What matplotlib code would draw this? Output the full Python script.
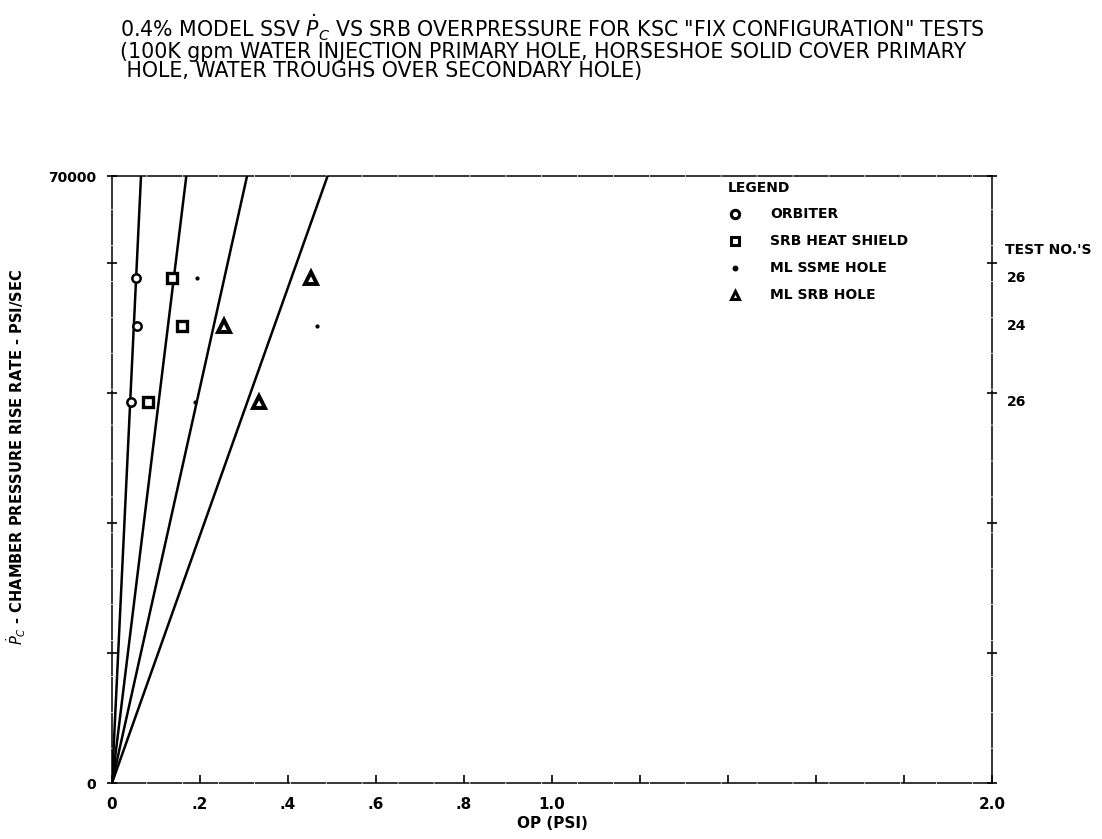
import numpy as np
import matplotlib
matplotlib.use('Agg')
import matplotlib.pyplot as plt
from matplotlib.lines import Line2D

plt.rcParams['font.family'] = ['DejaVu Sans']
plt.rcParams['mathtext.fontset'] = 'dejavusans'

# values
test_nos = ['26', '24', '26']
rate = [58200, 52700, 43900]          # Pc-dot, psi/sec, one row per test
orbiter = [0.055, 0.057, 0.043]
heat_shield = [0.136, 0.159, 0.082]
ssme_hole = [0.193, 0.466, 0.189]
srb_hole = [0.452, 0.255, 0.334]
# faired lines through origin: OP reached at top of plot (70000 psi/sec)
fair_end = [0.066, 0.169, 0.307, 0.490]
y_top = 70000

fig = plt.figure(figsize=(11.02, 8.39), dpi=100)
ax = fig.add_axes([0.1016, 0.0667, 0.7986, 0.7235])

for xe in fair_end:
    ax.plot([0, xe], [0, y_top], color='black', lw=1.8, zorder=2)

ax.plot(orbiter, rate, 'o', ms=6, mfc='white', mec='black', mew=1.8, zorder=3)
ax.plot(heat_shield, rate, 's', ms=7, mfc='white', mec='black', mew=2.4, zorder=3)
ax.plot(ssme_hole, rate, '.', ms=4, color='black', zorder=3)
ax.plot(srb_hole, rate, '^', ms=9, mfc='white', mec='black', mew=2.8, zorder=3)

ax.set_xlim(0, 2.0)
ax.set_ylim(0, y_top)
ax.set_xticks(np.arange(0, 2.01, 0.2))
ax.set_xticklabels(['0', '.2', '.4', '.6', '.8', '1.0', '', '', '', '', '2.0'],
                   fontsize=11, fontweight='bold')
ax.set_yticks([0, 15000, 30000, 45000, 60000, 70000])
ax.set_yticklabels(['0', '', '', '', '', '70000'], fontsize=10, fontweight='bold')
ax.tick_params(axis='x', direction='in', length=6, width=1.2, pad=10)
ax.tick_params(axis='y', direction='inout', length=7, width=1.2, pad=8,
               right=True)
for s in ax.spines.values():
    s.set_linewidth(1.1)
    s.set_linestyle((0, (22, 1.5)))

ax.set_xlabel('OP (PSI)', fontsize=11, fontweight='bold', labelpad=3)
ax.set_ylabel(r'$\dot{P}_C$ - CHAMBER PRESSURE RISE RATE - PSI/SEC',
              fontsize=10.5, fontweight='bold')
ax.yaxis.set_label_coords(-0.0955, 0.537)

# legend block
fig.text(728/1102, 1 - 188/839, 'LEGEND', fontsize=10, fontweight='bold',
         va='center')
leg_rows = [('o', 'ORBITER'), ('s', 'SRB HEAT SHIELD'),
            ('.', 'ML SSME HOLE'), ('^', 'ML SRB HOLE')]
for i, (m, lab) in enumerate(leg_rows):
    yy = 1 - (214 + 27 * i) / 839
    fig.lines.append(Line2D(
        [735/1102], [yy], marker=m, ms=6 if m != '.' else 4,
        mfc='white' if m != '.' else 'black', mec='black', mew=2.2,
        transform=fig.transFigure))
    fig.text(770/1102, yy, lab, fontsize=10, fontweight='bold', va='center')

# test numbers on right side
fig.text(1005/1102, 1 - 250/839, "TEST NO.'S", fontsize=10, fontweight='bold',
         va='center')
for t, r in zip(test_nos, rate):
    ax.text(1.017, r / y_top, t, transform=ax.transAxes, fontsize=10,
            fontweight='bold', va='center', ha='left')

title = ('0.4% MODEL SSV $\\dot{P}_C$ VS SRB OVERPRESSURE FOR KSC "FIX CONFIGURATION" TESTS\n'
         '(100K gpm WATER INJECTION PRIMARY HOLE, HORSESHOE SOLID COVER PRIMARY\n'
         ' HOLE, WATER TROUGHS OVER SECONDARY HOLE)')
fig.text(120/1102, 1 - 13/839, title, fontsize=14.8, va='top', ha='left',
         linespacing=0.92)

fig.savefig('out.png', dpi=100)
